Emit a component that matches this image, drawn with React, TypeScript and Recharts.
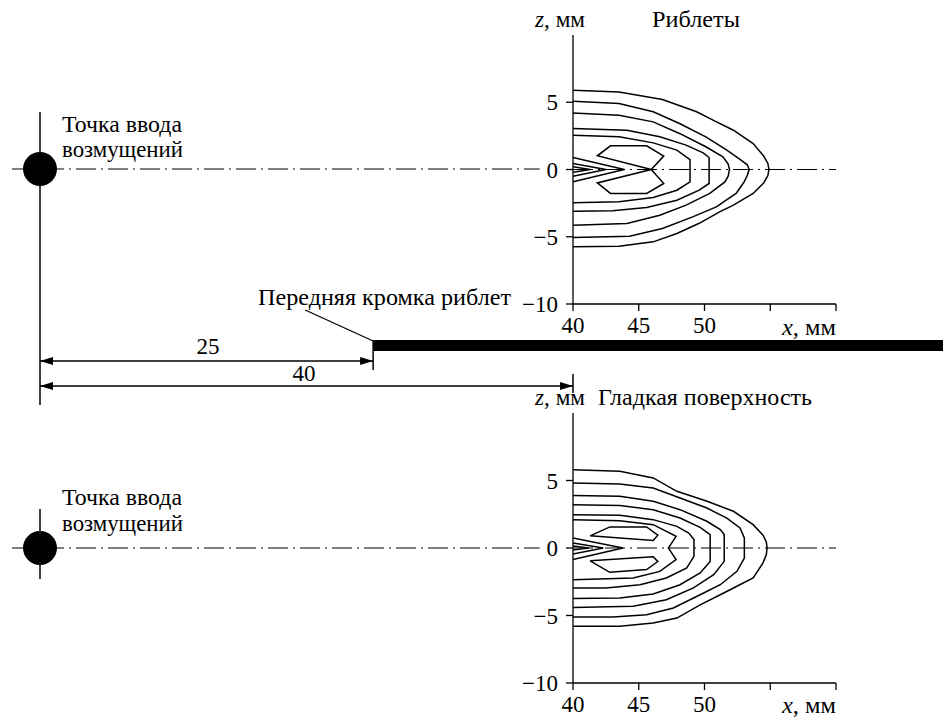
import React from 'react';
import { LineChart, Line, XAxis, YAxis, ReferenceLine, ReferenceDot, ReferenceArea } from 'recharts';

const W = 943;
const H = 718;
const FONT = 'Liberation Serif, Tinos, Times New Roman, DejaVu Serif, serif';
const FS = 23;

// Schematic dimensions (mm)
const SOURCE_X = 0;
const RIBLET_EDGE_X = 25;
const PLOT_START_X = 40;
const dimensionLabels = ['25', '40'];

// Axes of the contour panels
const xDomain: [number, number] = [40, 60];
const zDomain: [number, number] = [-10, 10];
const xTicks = [40, 45, 50, 55, 60];
const xTickLabels = ['40', '45', '50', '', ''];
const zTicks = [-10, -5, 0, 5];
const zTickLabels = ['\u221210', '\u22125', '0', '5'];

type P = [number, number];

// ---- Riblets panel contours [x mm, z mm] ----
const rib1: P[] = [[40, 5.9], [43.5, 5.77], [46.8, 5.2], [49.4, 4.29], [50.65, 3.67], [52.2, 2.92], [53.7, 1.93], [54.5, 1.0], [54.82, 0.45], [54.9, 0], [54.82, -0.45], [54.5, -1.0], [53.7, -1.78], [52.2, -2.65], [51.15, -3.15], [49.6, -4.0], [47.9, -4.76], [46.1, -5.38], [43.5, -5.7], [40, -5.75]];
const rib2: P[] = [[40, 5.08], [43.5, 4.9], [46.1, 4.29], [48.1, 3.42], [50.1, 2.43], [51.7, 1.44], [52.7, 0.75], [53.25, 0.35], [53.4, 0], [53.25, -0.45], [53.0, -0.95], [52.4, -1.78], [50.9, -2.78], [49.1, -3.52], [46.8, -4.39], [44.3, -4.96], [40, -5.06]];
const rib3: P[] = [[40, 4.21], [43.5, 4.04], [46.1, 3.54], [48.1, 2.68], [50.1, 1.69], [51.4, 0.94], [51.8, 0.4], [51.9, 0], [51.8, -0.5], [51.55, -0.92], [50.4, -1.78], [48.6, -2.65], [46.6, -3.4], [44.1, -4.01], [40, -4.14]];
const rib4: P[] = [[40, 3.05], [44.1, 2.92], [46.6, 2.43], [48.6, 1.81], [49.9, 1.24], [50.35, 0.89], [50.35, -1.04], [49.6, -1.54], [47.9, -2.28], [45.6, -2.83], [43.0, -3.07], [40, -3.1]];
const rib5: P[] = [[40, 2.55], [43.5, 2.43], [46.1, 1.98], [47.9, 1.44], [48.9, 0.74], [48.9, -0.92], [47.9, -1.54], [46.1, -2.08], [43.5, -2.4], [40, -2.48]];
const ribLobes: P[] = [[45.95, 0], [46.9, 1.0], [45.6, 1.76], [42.85, 1.76], [41.85, 1.02], [45.95, 0], [41.85, -1.0], [42.85, -1.78], [45.6, -1.78], [46.9, -1.04], [45.95, 0]];
const ribWedge1: P[] = [[40, 0.9], [43.9, 0], [40, -0.92]];
const ribWedge2: P[] = [[40, 0.45], [42.5, 0], [40, -0.5]];
const ribWedge3: P[] = [[40, 0.2], [41.3, 0], [40, -0.2]];

// ---- Smooth surface panel contours [x mm, z mm] ----
const sm1: P[] = [[40, 5.8], [43.56, 5.68], [46.1, 5.19], [47.9, 4.2], [50.2, 3.46], [52.2, 2.72], [53.7, 1.73], [54.45, 0.95], [54.7, 0.45], [54.76, 0], [54.7, -0.5], [54.45, -1.1], [53.7, -2.22], [52.2, -2.96], [51.2, -3.46], [49.7, -4.2], [47.9, -5.19], [46.1, -5.56], [43.56, -5.8], [40, -5.8]];
const sm2: P[] = [[40, 4.81], [43.56, 4.74], [46.1, 4.44], [48.14, 3.7], [50.18, 2.96], [51.7, 2.22], [52.7, 1.48], [53.03, 0.74], [53.03, -0.74], [52.47, -1.73], [51.2, -2.72], [49.67, -3.46], [47.63, -4.44], [45.6, -4.94], [43.05, -5.11], [40, -5.11]];
const sm3: P[] = [[40, 3.88], [43.56, 3.83], [46.1, 3.46], [48.14, 2.84], [50.18, 1.98], [51.2, 1.36], [51.5, 0.99], [51.5, -0.99], [50.7, -1.98], [49.16, -2.96], [47.1, -3.83], [44.58, -4.32], [40, -4.4]];
const sm4: P[] = [[40, 3.21], [43.56, 3.14], [46.1, 2.84], [48.14, 2.22], [49.67, 1.53], [50.43, 0.99], [50.43, -0.99], [49.67, -1.85], [48.14, -2.72], [46.1, -3.4], [43.56, -3.7], [40, -3.75]];
const sm5: P[] = [[40, 2.47], [43.56, 2.42], [46.1, 2.1], [47.9, 1.6], [48.8, 1.11], [49.2, 0.62], [49.2, -0.62], [48.65, -1.48], [47.1, -2.22], [45.1, -2.72], [42.5, -2.96], [40, -2.96]];
const sm6: P[] = [[40, 2.1], [43.56, 2.02], [46.1, 1.73], [47.84, 0.86], [47.25, 0], [47.84, -0.86], [46.6, -1.73], [44.58, -2.22], [40, -2.35]];
const smLobeUp: P[] = [[41.3, 0.9], [42.8, 1.56], [45.6, 1.56], [46.45, 0.95], [46.1, 0.55], [41.3, 0.9]];
const smLobeDown: P[] = [[41.3, -0.95], [42.8, -1.8], [45.6, -1.6], [46.45, -1.0], [46.1, -0.65], [41.3, -0.95]];
const smWedge1: P[] = [[40, 0.74], [43.8, 0], [40, -0.86]];
const smWedge2: P[] = [[40, 0.37], [42.3, 0], [40, -0.45]];
const smWedge3: P[] = [[40, 0.15], [41.2, 0], [40, -0.15]];

const ribletContours = [rib1, rib2, rib3, rib4, rib5, ribLobes, ribWedge1, ribWedge2, ribWedge3];
const smoothContours = [sm1, sm2, sm3, sm4, sm5, sm6, smLobeUp, smLobeDown, smWedge1, smWedge2, smWedge3];

const toPts = (c: P[]) => c.map(([x, z]) => ({ x, z }));

const tickStyle = { fill: '#000', fontSize: FS, fontFamily: FONT, style: { fontFamily: FONT } };

function Panel({ plotTop, plotH, contours }: { plotTop: number; plotH: number; contours: P[][] }) {
  const xAxisH = 30;
  const yAxisW = 40;
  return (
    <LineChart
      width={W}
      height={H}
      style={{ fontFamily: FONT }}
      margin={{ top: plotTop, right: W - 836, bottom: H - plotTop - plotH - xAxisH, left: 573 - yAxisW }}
    >
      <XAxis
        type="number"
        dataKey="x"
        domain={xDomain}
        allowDataOverflow
        ticks={xTicks}
        tickFormatter={(v: number) => xTickLabels[xTicks.indexOf(v)] ?? ''}
        height={xAxisH}
        tickSize={7}
        tickMargin={6}
        stroke="#000"
        strokeWidth={1.3}
        tick={tickStyle}
        interval={0}
      />
      <YAxis
        type="number"
        domain={zDomain}
        allowDataOverflow
        ticks={zTicks}
        tickFormatter={(v: number) => zTickLabels[zTicks.indexOf(v)] ?? ''}
        width={yAxisW}
        tickSize={7}
        tickMargin={8}
        stroke="#000"
        strokeWidth={1.3}
        tick={tickStyle}
        interval={0}
      />
      <ReferenceLine y={0} stroke="#000" strokeWidth={1.2} strokeDasharray="20 5 2 5" />
      {contours.map((c, i) => (
        <Line
          key={i}
          data={toPts(c)}
          dataKey="z"
          type="linear"
          stroke="#000"
          strokeWidth={1.5}
          dot={false}
          activeDot={false}
          isAnimationActive={false}
        />
      ))}
    </LineChart>
  );
}

const arrowShape = (dir: number) => (props: any) => {
  const { cx, cy } = props;
  return <polygon points={`${cx},${cy} ${cx + dir * 13},${cy - 4} ${cx + dir * 13},${cy + 4}`} fill="#000" />;
};

function Schematic() {
  const ln = { stroke: '#000', strokeWidth: 1.5, ifOverflow: 'visible' as const };
  const dash = '20 5 2 5';
  return (
    <LineChart width={W} height={H} margin={{ top: 0, right: W - 573, bottom: 0, left: 40 }}>
      <XAxis type="number" dataKey="x" domain={[SOURCE_X, PLOT_START_X]} hide allowDataOverflow />
      <YAxis type="number" domain={[0, H]} reversed hide allowDataOverflow />
      {/* top source */}
      <ReferenceLine segment={[{ x: SOURCE_X, y: 112 }, { x: SOURCE_X, y: 405 }]} {...ln} />
      <ReferenceLine segment={[{ x: -2.1, y: 169 }, { x: 37.5, y: 169 }]} {...ln} strokeWidth={1.2} strokeDasharray={dash} />
      <ReferenceDot x={SOURCE_X} y={169} r={17} fill="#000" stroke="none" ifOverflow="visible" />
      {/* bottom source */}
      <ReferenceLine segment={[{ x: SOURCE_X, y: 509 }, { x: SOURCE_X, y: 579 }]} {...ln} />
      <ReferenceLine segment={[{ x: -2.1, y: 548 }, { x: 37.5, y: 548 }]} {...ln} strokeWidth={1.2} strokeDasharray={dash} />
      <ReferenceDot x={SOURCE_X} y={548} r={17} fill="#000" stroke="none" ifOverflow="visible" />
      {/* riblet plate */}
      <ReferenceArea x1={RIBLET_EDGE_X} x2={75} y1={340} y2={351} fill="#000" fillOpacity={1} stroke="none" ifOverflow="visible" />
      <ReferenceLine segment={[{ x: RIBLET_EDGE_X, y: 340 }, { x: RIBLET_EDGE_X, y: 370 }]} {...ln} />
      <ReferenceLine segment={[{ x: 19.9, y: 310 }, { x: RIBLET_EDGE_X, y: 341 }]} {...ln} strokeWidth={1.3} />
      {/* dimension 25 */}
      <ReferenceLine segment={[{ x: SOURCE_X, y: 361 }, { x: RIBLET_EDGE_X, y: 361 }]} {...ln} />
      <ReferenceDot x={SOURCE_X} y={361} r={1} ifOverflow="visible" shape={arrowShape(1)} />
      <ReferenceDot x={RIBLET_EDGE_X} y={361} r={1} ifOverflow="visible" shape={arrowShape(-1)} />
      {/* dimension 40 */}
      <ReferenceLine segment={[{ x: SOURCE_X, y: 386 }, { x: PLOT_START_X, y: 386 }]} {...ln} />
      <ReferenceDot x={SOURCE_X} y={386} r={1} ifOverflow="visible" shape={arrowShape(1)} />
      <ReferenceDot x={PLOT_START_X} y={386} r={1} ifOverflow="visible" shape={arrowShape(-1)} />
      <ReferenceLine segment={[{ x: PLOT_START_X, y: 374 }, { x: PLOT_START_X, y: 393 }]} {...ln} />
    </LineChart>
  );
}

function Texts() {
  const t = { fontSize: FS, fill: '#000', style: { fontFamily: FONT }, lengthAdjust: 'spacingAndGlyphs' as const };
  return (
    <svg width={W} height={H} style={{ position: 'absolute', left: 0, top: 0, pointerEvents: 'none' }}>
      <text {...t} x={62} y={132} textLength={120}>Точка ввода</text>
      <text {...t} x={62} y={157} textLength={121}>возмущений</text>
      <text {...t} x={62} y={505} textLength={120}>Точка ввода</text>
      <text {...t} x={62} y={531} textLength={121}>возмущений</text>
      <text {...t} x={258} y={305} textLength={253}>Передняя кромка риблет</text>
      <text {...t} x={208} y={354} textAnchor="middle">{dimensionLabels[0]}</text>
      <text {...t} x={304} y={381} textAnchor="middle">{dimensionLabels[1]}</text>
      <text {...t} x={535} y={27} textLength={50}><tspan fontStyle="italic">z</tspan>, мм</text>
      <text {...t} x={652} y={27} textLength={88}>Риблеты</text>
      <text {...t} x={535} y={405} textLength={50}><tspan fontStyle="italic">z</tspan>, мм</text>
      <text {...t} x={598} y={405} textLength={214}>Гладкая поверхность</text>
      <text {...t} x={782} y={335} textLength={54}><tspan fontStyle="italic">x</tspan>, мм</text>
      <text {...t} x={782} y={713} textLength={54}><tspan fontStyle="italic">x</tspan>, мм</text>
    </svg>
  );
}

export default function App() {
  const layer: React.CSSProperties = { position: 'absolute', left: 0, top: 0 };
  return (
    <div style={{ position: 'absolute', left: 0, top: 0, width: W, height: H, background: '#fff', overflow: 'hidden', fontFamily: FONT }}>
      <div style={layer}><Schematic /></div>
      <div style={layer}><Panel plotTop={35} plotH={269} contours={ribletContours} /></div>
      <div style={layer}><Panel plotTop={413} plotH={270} contours={smoothContours} /></div>
      <Texts />
    </div>
  );
}
